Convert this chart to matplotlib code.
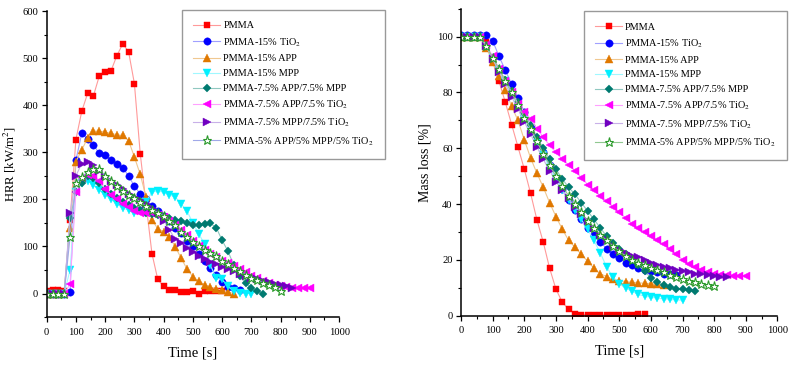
import numpy as np
import matplotlib
matplotlib.use("Agg")
import matplotlib.pyplot as plt
from matplotlib.ticker import MultipleLocator

plt.rcParams['font.family'] = ['Liberation Serif', 'DejaVu Serif']
plt.rcParams['mathtext.fontset'] = 'stix'

# sampling interval of the read-off points [s]
step = 20

labels = ["PMMA", "PMMA-15% TiO$_2$", "PMMA-15% APP", "PMMA-15% MPP",
          "PMMA-7.5% APP/7.5% MPP", "PMMA-7.5% APP/7.5% TiO$_2$",
          "PMMA-7.5% MPP/7.5% TiO$_2$", "PMMA-5% APP/5% MPP/5% TiO$_2$"]

# HRR [kW/m2], one value every 20 s starting at t = 0
hrr_pmma = [5, 7, 7, 5, 156, 327, 387, 425, 420, 462, 470, 473, 505, 530, 514, 446, 297, 190, 85, 30,
            15, 8, 8, 3, 3, 5, 0, 5, 5, 5, 5]
hrr_tio2 = [0, 0, 0, 0, 3, 283, 340, 328, 315, 298, 294, 284, 276, 267, 250, 228, 212, 200, 185, 175,
            165, 155, 140, 128, 112, 100, 85, 70, 55, 40, 25, 14, 11, 8]
hrr_app = [0, 0, 0, 2, 140, 280, 305, 330, 345, 345, 343, 340, 337, 336, 325, 290, 253, 205, 156, 138,
           131, 120, 99, 75, 52, 36, 26, 19, 13, 10, 7, 3, 0]
hrr_mpp = [0, 0, 0, 0, 50, 215, 235, 240, 230, 220, 210, 200, 190, 182, 177, 172, 175, 195, 215, 218,
           215, 210, 205, 190, 175, 150, 127, 105, 60, 32, 30, 15, 5, 2, 0, 0]
hrr_app_mpp = [0, 0, 0, 0, 160, 215, 235, 250, 245, 235, 222, 212, 203, 195, 188, 182, 178, 172, 168, 166,
               163, 160, 157, 153, 149, 146, 146, 148, 149, 140, 113, 90, 60, 37, 22, 12, 5, 0]
hrr_app_tio2 = [0, 0, 0, 0, 20, 215, 245, 252, 250, 240, 222, 210, 200, 191, 183, 176, 172, 170, 170, 166,
                162, 155, 145, 135, 124, 112, 101, 93, 85, 77, 70, 64, 58, 52, 45, 38, 32, 27, 23, 19,
                16, 14, 12, 11, 11, 11]
hrr_mpp_tio2 = [0, 0, 0, 0, 170, 250, 276, 280, 272, 260, 250, 240, 230, 222, 212, 205, 198, 190, 182, 170,
                155, 135, 115, 108, 97, 88, 80, 73, 67, 62, 57, 52, 47, 42, 38, 34, 30, 27, 24, 21,
                18, 15, 12]
hrr_all = [0, 0, 0, 0, 120, 235, 248, 258, 265, 265, 250, 240, 228, 218, 210, 203, 195, 185, 178, 172,
           165, 155, 145, 130, 120, 110, 100, 93, 87, 80, 70, 62, 55, 48, 40, 34, 28, 23, 18, 13, 6]

# Mass loss [%], one value every 20 s starting at t = 0
ml_pmma = [100, 100, 100, 100, 98, 91, 84, 76.5, 68.5, 60.5, 52.5, 43.8, 34.3, 26.3, 17, 9.5, 4.8, 2.3, 0.7, 0.4,
           0.3, 0.3, 0.3, 0.3, 0.3, 0.3, 0.4, 0.4, 0.5, 0.5]
ml_tio2 = [100.6, 100.6, 100.6, 100.6, 100.6, 98.5, 93, 88, 83, 78, 73, 68, 63, 58.5, 54, 49.5, 45.5, 41.5, 38, 34.5,
           31.5, 29, 26.5, 24, 22, 20.5, 19, 18, 17, 16.5, 16, 15.5, 15, 14.8, 14.5]
ml_app = [99.8, 99.8, 99.8, 99.8, 96, 91, 86, 81, 75, 70, 63, 56.5, 51, 46, 40.5, 35.5, 31, 27, 24.5, 22,
          19.5, 17, 15, 14, 13, 12.5, 12.2, 12, 11.8, 11.6, 11.5, 11.3, 11]
ml_mpp = [99.8, 99.8, 99.8, 99.8, 96.5, 92.5, 88, 84, 79.5, 75, 70.5, 66, 62, 57.5, 53, 49, 45, 41.5, 38, 34.5,
          31, 27, 22.5, 17.5, 13.8, 11.5, 10, 8.8, 7.6, 7, 6.6, 6.2, 6, 5.8, 5.6, 5.5]
ml_app_mpp = [99.8, 99.8, 99.8, 99.8, 96.5, 92.5, 88.5, 84.5, 80.5, 76.5, 72.5, 68.5, 64, 60, 56, 52.5, 49, 46, 43.5, 40.5,
              37.5, 34.5, 31.5, 28.5, 26, 24, 22, 20, 18, 16, 13.5, 12, 11, 10.2, 9.7, 9.4, 9.2, 9]
ml_app_tio2 = [99.8, 99.8, 99.8, 99.8, 97, 93, 88.5, 84, 80, 76, 73, 70.5, 67, 64, 61, 58.5, 56, 54, 52, 49.5,
               47, 45, 43, 41, 39, 37, 35, 33, 31.5, 30, 28.5, 27, 25.5, 24, 22, 20, 18.5, 17.5, 16.5, 15.5,
               15, 14.7, 14.5, 14.3, 14.2, 14.2]
ml_mpp_tio2 = [99.8, 99.8, 99.8, 99.8, 96.5, 92, 87.5, 83, 78.5, 74, 69.5, 65, 60.5, 56, 52, 48, 45, 42, 39, 36.5,
               34, 31.5, 29, 27, 25, 23.5, 22.5, 21.5, 21, 20, 19, 18, 17.5, 17, 16.5, 16, 15.5, 15, 14.8, 14.5,
               14.2, 14, 13.8]
ml_all = [99.8, 99.8, 99.8, 99.8, 96.5, 92.5, 88.5, 84, 80, 75.5, 71, 67, 62.5, 58, 54, 50, 46.5, 43, 40, 37,
          34, 31.5, 29, 27, 25, 23, 21.5, 20, 19, 18, 17, 16.5, 15.5, 14.5, 14, 13, 12.5, 12, 11.5, 11, 10.7]

hrr_series = [hrr_pmma, hrr_tio2, hrr_app, hrr_mpp, hrr_app_mpp, hrr_app_tio2, hrr_mpp_tio2, hrr_all]
ml_series = [ml_pmma, ml_tio2, ml_app, ml_mpp, ml_app_mpp, ml_app_tio2, ml_mpp_tio2, ml_all]

# marker, marker colour, line colour
styles = [
    ('s', '#ff0000', '#ff9a9a'),
    ('o', '#0000ff', '#a0a0ff'),
    ('^', '#e07800', '#f0c890'),
    ('v', '#00f0ff', '#a0f8ff'),
    ('D', '#007a70', '#90c8c0'),
    ('<', '#ff00ff', '#ffa0ff'),
    ('>', '#7000c0', '#c8b0e8'),
    ('*', '#2a9a2a', '#a0a8e8'),
]
msizes = [4.8, 5.3, 5.5, 5.5, 4.2, 5.5, 5.5, 6.5]

fig = plt.figure(figsize=(7.99, 3.67), dpi=100)
ax1 = fig.add_axes([0.0584, 0.136, 0.366, 0.834])
ax2 = fig.add_axes([0.577, 0.140, 0.396, 0.836])


def draw(ax, series, line_cols=None):
    for i, vals in enumerate(series):
        m, mc, lc = styles[i]
        if line_cols is not None:
            lc = line_cols[i]
        t = np.arange(len(vals)) * step
        face = 'white' if m == '*' else mc
        ax.plot(t, vals, color=lc, lw=0.8, marker=m, ms=msizes[i],
                mfc=face, mec=mc, mew=0.8 if m == '*' else 0.3, label=labels[i])


def style(ax):
    for s in ['top', 'right']:
        ax.spines[s].set_visible(False)
    for s in ['left', 'bottom']:
        ax.spines[s].set_linewidth(1.1)
    ax.xaxis.set_major_locator(MultipleLocator(100))
    ax.xaxis.set_minor_locator(MultipleLocator(50))
    ax.tick_params(which='major', direction='out', length=3.5, width=0.9, labelsize=7.6)
    ax.tick_params(which='minor', direction='out', length=2, width=0.8)
    ax.tick_params(axis='x', pad=4)
    ax.tick_params(axis='y', pad=2.5)
    ax.set_xlim(0, 1000)
    ax.set_xlabel("Time [s]", fontsize=10.5, labelpad=7)


draw(ax1, hrr_series)
style(ax1)
ax1.set_ylim(-50, 600)
ax1.yaxis.set_major_locator(MultipleLocator(100))
ax1.yaxis.set_minor_locator(MultipleLocator(50))
ax1.set_ylabel("HRR [kW/m$^2$]", fontsize=9.2, va='center')
ax1.yaxis.set_label_coords(-0.125, 0.5)

right_lines = [st[2] for st in styles]
right_lines[7] = '#90c890'
draw(ax2, ml_series, right_lines)
style(ax2)
ax2.set_ylim(0, 110)
ax2.yaxis.set_major_locator(MultipleLocator(20))
ax2.yaxis.set_minor_locator(MultipleLocator(10))
ax2.set_ylabel("Mass loss [%]", fontsize=10, va='center')
ax2.yaxis.set_label_coords(-0.114, 0.5)

for ax, anchor in [(ax1, (0.228, 0.973)), (ax2, (0.731, 0.970))]:
    leg = ax.legend(loc='upper left', bbox_to_anchor=anchor, bbox_transform=fig.transFigure,
                    fontsize=7.4, frameon=True, fancybox=False, handlelength=2.6,
                    handletextpad=0.3, labelspacing=0.55, borderpad=1.1, borderaxespad=0)
    leg.get_frame().set_edgecolor('#808080')
    leg.get_frame().set_linewidth(1.0)

fig.savefig("out.png", dpi=100)
